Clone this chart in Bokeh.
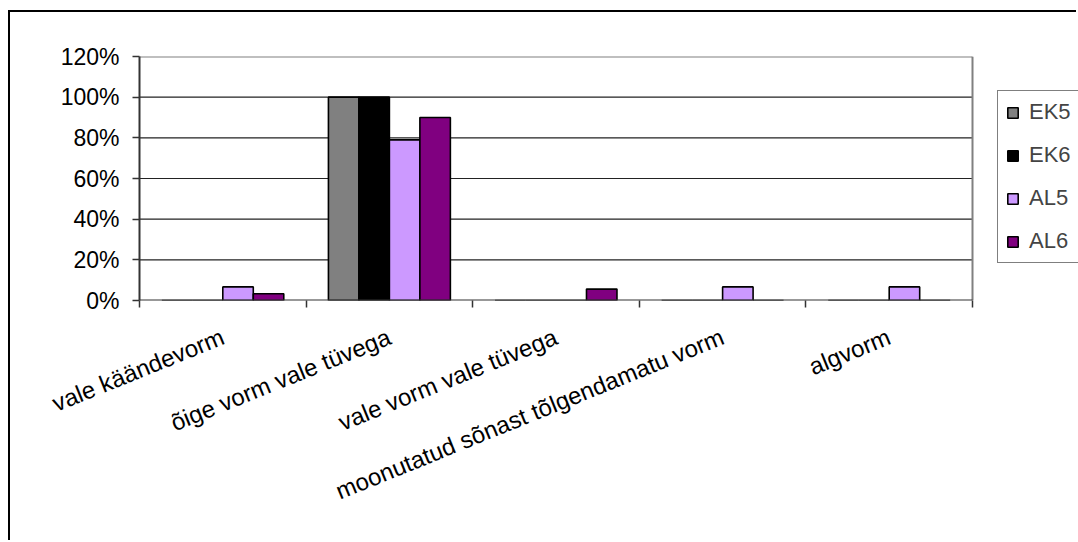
from bokeh.plotting import figure
from bokeh.models import (FixedTicker, NumeralTickFormatter, Legend, LegendItem,
                          Range1d)
from bokeh.embed import file_html
from bokeh.resources import INLINE
import numpy as np

# Error categories and the share of each group (percent)
categories = ["vale käändevorm", "õige vorm vale tüvega", "vale vorm vale tüvega",
              "moonutatud sõnast tõlgendamatu vorm", "algvorm"]
series_names = ["EK5", "EK6", "AL5", "AL6"]
ek5 = [0, 100, 0, 0, 0]
ek6 = [0, 100, 0, 0, 0]
al5 = [6.7, 79, 0, 6.7, 6.7]
al6 = [3.3, 90, 5.6, 0, 0]
y_ticks = [0, 0.2, 0.4, 0.6, 0.8, 1.0, 1.2]

colors = ["#808080", "#000000", "#CC99FF", "#800080"]
FONT = "Liberation Sans"
Y_FS = "23px"
X_FS = "24px"
LEG_FS = "22px"

n = len(categories)
centers = np.arange(n) + 0.5
bar_w = 0.183
offsets = [-1.5 * bar_w, -0.5 * bar_w, 0.5 * bar_w, 1.5 * bar_w]

# canvas / plot-area geometry (pixels)
W, H = 1068, 530
left_pad, top_pad, bottom_pad = 129, 44, 242
area_w = 833                      # width of the bar area
frame_w = W - left_pad            # frame runs to the right edge, legend sits in it
x_end = n * frame_w / area_w

p = figure(width=W, height=H, output_backend="svg", toolbar_location=None,
           x_range=Range1d(0, x_end), y_range=Range1d(0, 1.2),
           min_border_left=left_pad, min_border_right=0,
           min_border_top=top_pad, min_border_bottom=bottom_pad)
p.styles = {"margin-left": "8px", "margin-top": "10px",
            "border-left": "2px solid #000", "border-top": "2px solid #000"}

p.background_fill_color = "white"
p.border_fill_color = "white"
p.outline_line_color = None
p.xgrid.grid_line_color = None
p.ygrid.grid_line_color = None

# horizontal gridlines across the bar area only
grid_y = [t for t in y_ticks if 0 < t < 1.2]
p.segment(x0=[0] * len(grid_y), x1=[n] * len(grid_y), y0=grid_y, y1=grid_y,
          line_color="#222222", line_width=1.2)
# gray top and right border of the bar area
p.segment(x0=[0, n], x1=[n, n], y0=[1.2, 0], y1=[1.2, 1.2],
          line_color="#808080", line_width=2)

renderers = []
for vals, off, col in zip([ek5, ek6, al5, al6], offsets, colors):
    r = p.vbar(x=centers + off, top=np.array(vals) / 100.0, width=bar_w,
               fill_color=col, line_color="black", line_width=1.6)
    renderers.append(r)

# category axis baseline
p.segment(x0=[0], x1=[n], y0=[0], y1=[0], line_color="#333333", line_width=2)

# y axis: percentages
p.yaxis.ticker = FixedTicker(ticks=y_ticks)
p.yaxis.formatter = NumeralTickFormatter(format="0%")
p.yaxis.major_label_text_font = FONT
p.yaxis.major_label_text_font_size = Y_FS
p.yaxis.major_label_text_color = "black"
p.yaxis.major_label_standoff = 13
p.yaxis.axis_line_color = "#333333"
p.yaxis.axis_line_width = 2
p.yaxis.major_tick_in = 0
p.yaxis.major_tick_out = 7
p.yaxis.major_tick_line_color = "#333333"
p.yaxis.major_tick_line_width = 1.5
p.yaxis.minor_tick_line_color = None

# x axis: labels at category centres, tick marks at category boundaries
p.xaxis.ticker = FixedTicker(ticks=list(centers), minor_ticks=list(range(n + 1)))
p.xaxis.major_label_overrides = {float(c): lab for c, lab in zip(centers, categories)}
p.xaxis.major_label_orientation = 0.385
p.xaxis.major_label_text_font = FONT
p.xaxis.major_label_text_font_size = X_FS
p.xaxis.major_label_text_color = "black"
p.xaxis.major_label_standoff = 28
p.xaxis.major_tick_line_color = None
p.xaxis.minor_tick_in = 0
p.xaxis.minor_tick_out = 7
p.xaxis.minor_tick_line_color = "#333333"
p.xaxis.minor_tick_line_width = 1.5
p.xaxis.axis_line_color = None

legend = Legend(items=[LegendItem(label=nm, renderers=[r])
                       for nm, r in zip(series_names, renderers)],
                location=(858, 37))
legend.border_line_color = "black"
legend.border_line_width = 1
legend.background_fill_color = "white"
legend.label_text_font = FONT
legend.label_text_font_size = LEG_FS
legend.glyph_width = 13
legend.glyph_height = 13
legend.label_standoff = 10
legend.spacing = 17
legend.padding = 8
legend.margin = 0
p.add_layout(legend, "center")

open("out.html", "w").write(file_html(p, INLINE))
